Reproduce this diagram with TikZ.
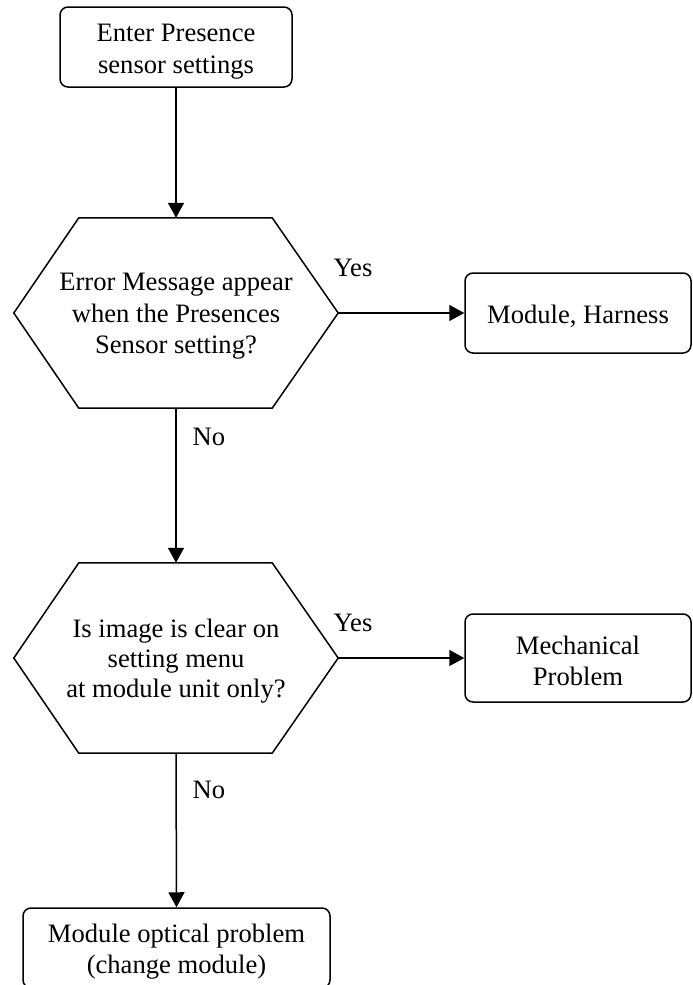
\documentclass[tikz,border=0pt]{standalone}
\usepackage{fontspec}
\setmainfont{Liberation Serif}
\usetikzlibrary{arrows.meta,calc}
\tikzset{
  box/.style={draw, line width=1.5pt, rounded corners=8pt, inner sep=0pt},
  hexnode/.style={inner sep=0pt, minimum width=324pt, minimum height=190pt},
  hexline/.style={line width=1.5pt, line join=miter},
  txt/.style={inner sep=0pt, align=center, font=\fontsize{26.6}{31.5}\selectfont},
  conn/.style={line width=1.5pt, -{Triangle[length=15pt,width=16pt]}},
  lbl/.style={font=\fontsize{26.6}{32}\selectfont, inner sep=0pt}
}
\begin{document}
\begin{tikzpicture}[x=1pt,y=-1pt]
\useasboundingbox (0,0) rectangle (693,985);
\clip (0,0) rectangle (693,985);
% shapes
\node[box, minimum width=232pt, minimum height=80pt] (start) at (176,47) {};
\node[hexnode] (d1) at (176,313) {};
\draw[hexline] (d1.west) -- ($(d1.north west)+(65,0)$) -- ($(d1.north east)+(-66,0)$) -- (d1.east) -- ($(d1.south east)+(-66,0)$) -- ($(d1.south west)+(65,0)$) -- cycle;
\node[box, minimum width=226pt, minimum height=80pt] (r1) at (578,313) {};
\node[hexnode] (d2) at (176,658) {};
\draw[hexline] (d2.west) -- ($(d2.north west)+(65,0)$) -- ($(d2.north east)+(-66,0)$) -- (d2.east) -- ($(d2.south east)+(-66,0)$) -- ($(d2.south west)+(65,0)$) -- cycle;
\node[box, minimum width=226pt, minimum height=88pt] (r2) at (578,658) {};
\node[box, minimum width=307pt, minimum height=80pt] (end) at (176.5,948) {};
% texts
\node[txt] (startT) at ($(start.center)+(0,4.5)$) {Enter Presence\\sensor settings};
\node[txt] (d1T) at ($(d1.center)+(0,3.5)$) {Error Message appear\\when the Presences\\Sensor setting?};
\node[txt] (r1T) at ($(r1.center)+(0,3.5)$) {Module, Harness};
\node[txt, font=\fontsize{26.6}{30}\selectfont] (d2T) at ($(d2.center)+(0,3)$) {Is image is clear on\\setting menu\\at module unit only?};
\node[txt] (r2T) at ($(r2.center)+(0,3)$) {Mechanical\\Problem};
\node[txt] (endT) at ($(end.center)+(0,3.5)$) {Module optical problem\\(change module)};
% connectors
\draw[conn] (start.south) -- (d1.north);
\draw[conn] (d1.east) -- (r1.west);
\draw[conn] (d1.south) -- (d2.north);
\draw[conn] (d2.east) -- (r2.west);
\draw[conn] (d2.south) -- (end.north);
\node[lbl] (y1) at (353,268) {Yes};
\node[lbl] (n1) at (209,437) {No};
\node[lbl] (y2) at (353,623) {Yes};
\node[lbl] (n2) at (209,790) {No};
\end{tikzpicture}
\end{document}
